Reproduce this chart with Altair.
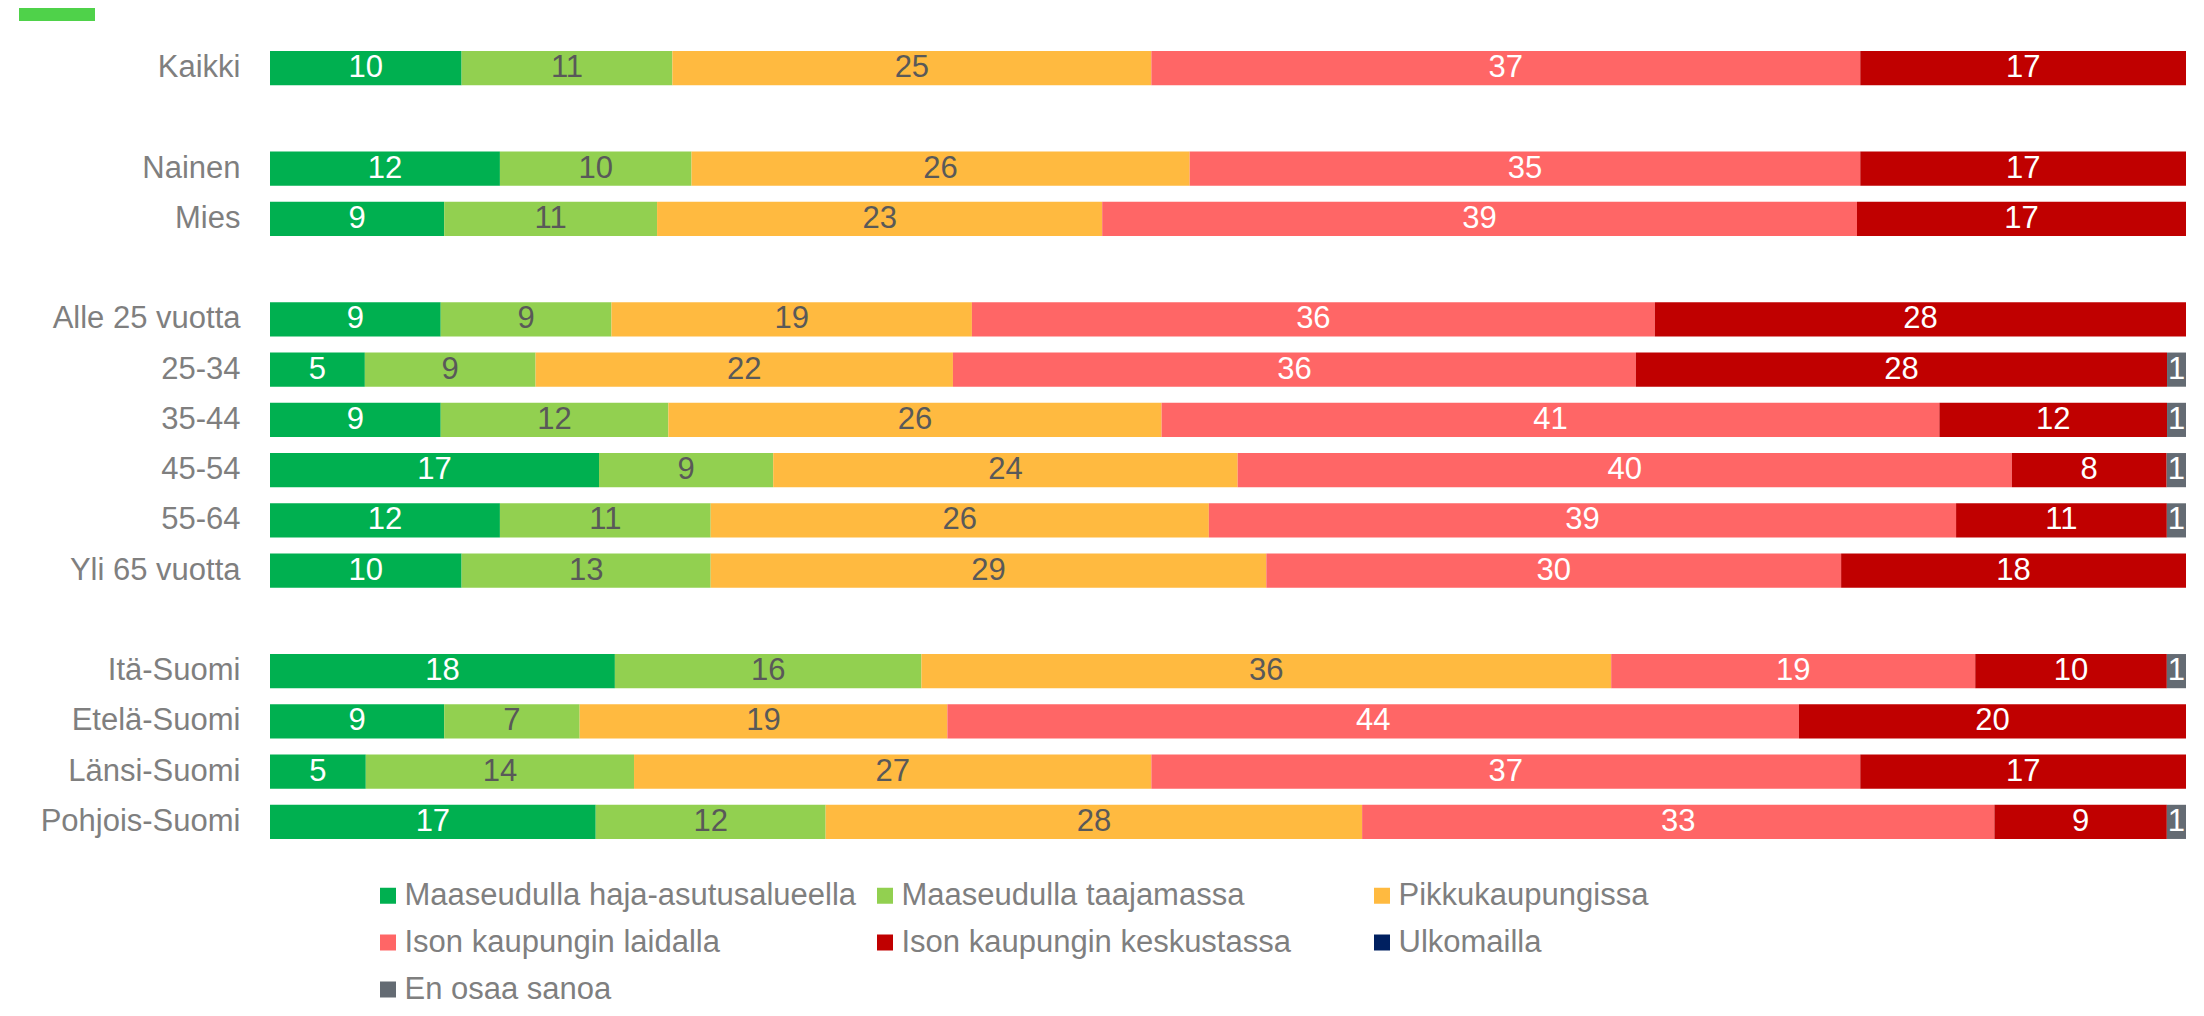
import altair as alt
import pandas as pd

# Row slots (blank slots separate the groups)
groups = ["Kaikki", " ", "Nainen", "Mies", "  ", "Alle 25 vuotta", "25-34", "35-44",
          "45-54", "55-64", "Yli 65 vuotta", "   ", "Itä-Suomi", "Etelä-Suomi",
          "Länsi-Suomi", "Pohjois-Suomi"]
data_groups = ["Kaikki", "Nainen", "Mies", "Alle 25 vuotta", "25-34", "35-44", "45-54",
               "55-64", "Yli 65 vuotta", "Itä-Suomi", "Etelä-Suomi", "Länsi-Suomi",
               "Pohjois-Suomi"]

categories = ["Maaseudulla haja-asutusalueella", "Maaseudulla taajamassa", "Pikkukaupungissa",
              "Ison kaupungin laidalla", "Ison kaupungin keskustassa", "Ulkomailla",
              "En osaa sanoa"]
colors = ["#00B050", "#92D050", "#FFBA40", "#FF6666", "#C00000", "#002060", "#646B73"]
text_colors = ["#FFFFFF", "#595959", "#595959", "#FFFFFF", "#FFFFFF", "#FFFFFF", "#FFFFFF"]

maaseudulla_haja = [10, 12, 9, 9, 5, 9, 17, 12, 10, 18, 9, 5, 17]
maaseudulla_taaja = [11, 10, 11, 9, 9, 12, 9, 11, 13, 16, 7, 14, 12]
pikkukaupungissa = [25, 26, 23, 19, 22, 26, 24, 26, 29, 36, 19, 27, 28]
ison_laidalla = [37, 35, 39, 36, 36, 41, 40, 39, 30, 19, 44, 37, 33]
ison_keskustassa = [17, 17, 17, 28, 28, 12, 8, 11, 18, 10, 20, 17, 9]
ulkomailla = [0, 0, 0, 0, 0, 0, 0, 0, 0, 0, 0, 0, 0]
en_osaa = [0, 0, 0, 0, 1, 1, 1, 1, 0, 1, 0, 0, 1]

series = [maaseudulla_haja, maaseudulla_taaja, pikkukaupungissa, ison_laidalla,
          ison_keskustassa, ulkomailla, en_osaa]

rows = []
for ci, (cat, vals) in enumerate(zip(categories, series)):
    for g, v in zip(data_groups, vals):
        if v > 0:
            rows.append({"group": g, "category": cat, "order": ci, "value": v,
                         "tcolor": text_colors[ci]})
df = pd.DataFrame(rows)

FONT = "Liberation Sans"

y_enc = alt.Y("group:N", sort=groups,
              scale=alt.Scale(domain=groups, paddingInner=0.32, paddingOuter=0.16),
              axis=alt.Axis(title=None, domain=False, ticks=False, labelFontSize=31,
                            labelColor="#7F7F7F", labelPadding=30, labelFont=FONT,
                            labelLimit=500))

base = alt.Chart(df).transform_stack(
    stack="value", as_=["x0", "x1"], groupby=["group"],
    sort=[alt.SortField("order", order="ascending")], offset="normalize"
).transform_calculate(mid="(datum.x0 + datum.x1) / 2")

bars = base.mark_bar().encode(
    y=y_enc,
    x=alt.X("x0:Q", axis=None, scale=alt.Scale(domain=[0, 1], nice=False)),
    x2="x1:Q",
    color=alt.Color("category:N",
                    scale=alt.Scale(domain=categories, range=colors),
                    legend=alt.Legend(title=None, orient="none", legendX=102.5, legendY=837,
                                      direction="horizontal", columns=3, gridAlign="all",
                                      columnPadding=13, rowPadding=15, symbolType="square",
                                      symbolSize=256, symbolStrokeWidth=0, labelFontSize=31,
                                      labelFont=FONT, labelColor="#7F7F7F", labelOffset=1,
                                      labelLimit=700, padding=0)),
)

labels = base.mark_text(font=FONT, fontSize=31, baseline="middle", align="center").encode(
    y=y_enc,
    x=alt.X("mid:Q", axis=None, scale=alt.Scale(domain=[0, 1], nice=False)),
    text=alt.Text("value:Q"),
    color=alt.Color("tcolor:N", scale=None),
)

deco = alt.Chart(pd.DataFrame({"d": [0]})).mark_rect(color="#4FD24A").encode(
    x=alt.value(-251), x2=alt.value(-175), y=alt.value(-36), y2=alt.value(-22)
)

chart = alt.layer(bars, labels, deco).resolve_scale(color="independent").properties(
    width=1916, height=804,
    autosize=alt.AutoSizeParams(type="none"),
    padding={"left": 262, "top": 35, "right": 10, "bottom": 161},
).configure_view(strokeWidth=0)

chart.save("out.html", embed_options={"renderer": "svg", "actions": False})
